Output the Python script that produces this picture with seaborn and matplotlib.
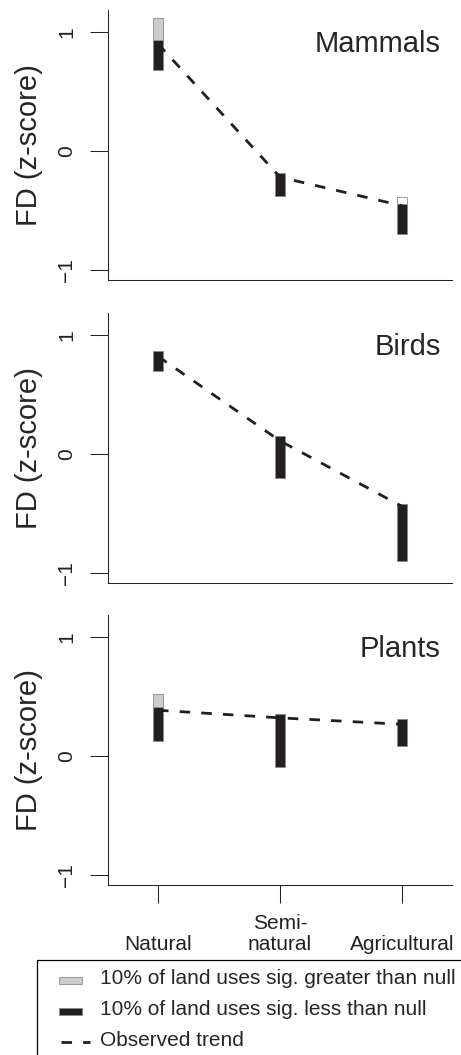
import matplotlib
matplotlib.use("Agg")
import matplotlib.pyplot as plt
import seaborn as sns
from matplotlib.patches import Patch, Rectangle
from matplotlib.lines import Line2D
from matplotlib.legend_handler import HandlerBase

# ---------------------------- data ----------------------------
land_uses = ["Natural", "Semi-\nnatural", "Agricultural"]
taxa = ["Mammals", "Birds", "Plants"]

# black bars: 10% of land uses sig. less than null (bottom, top)
mammals_less_low = [0.68, -0.38, -0.70]
mammals_less_high = [0.935, -0.183, -0.447]
birds_less_low = [0.695, -0.204, -0.90]
birds_less_high = [0.868, 0.154, -0.42]
plants_less_low = [0.129, -0.095, 0.081]
plants_less_high = [0.415, 0.353, 0.311]

# grey bars: 10% of land uses sig. greater than null (top; bottom = top of black bar)
mammals_greater_high = [1.118, None, -0.385]
birds_greater_high = [None, None, None]
plants_greater_high = [0.521, None, None]

# observed trend
mammals_trend = [0.90, -0.22, -0.46]
birds_trend = [0.82, 0.11, -0.44]
plants_trend = [0.384, 0.32, 0.266]

positions = [1, 2, 3]

panels = [
    ("Mammals", mammals_less_low, mammals_less_high, mammals_greater_high, mammals_trend),
    ("Birds", birds_less_low, birds_less_high, birds_greater_high, birds_trend),
    ("Plants", plants_less_low, plants_less_high, plants_greater_high, plants_trend),
]

# ---------------------------- style ----------------------------
sns.set_style("ticks")
plt.rcParams['font.family'] = ['Liberation Sans', 'DejaVu Sans']

black = '#231f20'
grey = '#cccccc'
edge = '#8a8a8a'
bar_w = 0.078
dash = (0, (3.8, 4.0))

W, H = 461, 1055
fig = plt.figure(figsize=(W / 100, H / 100), dpi=100)

tops = [10, 313, 615]
ax_h = 270
left, right = 108, 452

for i, (name, low, high, greater, trend) in enumerate(panels):
    top = tops[i]
    ax = fig.add_axes([left / W, 1 - (top + ax_h) / H, (right - left) / W, ax_h / H])

    # black bars
    ax.bar(positions, [h - l for l, h in zip(low, high)], bottom=low, width=bar_w,
           color=black, edgecolor=edge, linewidth=0.6, zorder=2)
    # grey bars
    for x, b, g in zip(positions, high, greater):
        if g is None:
            continue
        fc = 'white' if name == "Mammals" and x == 3 else grey
        ax.bar([x], [g - b], bottom=[b], width=bar_w, color=fc,
               edgecolor=edge, linewidth=0.6, zorder=2)

    sns.lineplot(x=positions, y=trend, ax=ax, color=black, linewidth=2,
                 linestyle=dash, zorder=3)

    ax.set_xlim(0.59, 3.41)
    ax.set_ylim(-1.084, 1.184)
    ax.set_yticks([-1, 0, 1])
    ax.set_yticklabels(["\u22121", "0", "1"], rotation=90, va='center', fontsize=15)
    ax.tick_params(axis='y', length=13, width=0.75, pad=10, colors='#222222')
    for s in ['top', 'right']:
        ax.spines[s].set_visible(False)
    for s in ['left', 'bottom']:
        ax.spines[s].set_linewidth(0.75)
        ax.spines[s].set_color('#222222')

    ax.set_ylabel("FD (z-score)", fontsize=21)
    ax.yaxis.set_label_coords(-0.19, 0.5)

    ax.text(0.968, 0.875, name, transform=ax.transAxes, ha='right', va='center', fontsize=21)

    if i < 2:
        ax.set_xticks([])
    else:
        ax.set_xticks(positions)
        ax.set_xticklabels(land_uses, fontsize=15, va='bottom', linespacing=1.15)
        ax.tick_params(axis='x', length=13, width=0.75, pad=37, colors='#222222')


# ---------------------------- legend ----------------------------
class LegendKey(HandlerBase):
    def __init__(self, x0, x1, y0, y1):
        super().__init__()
        self.x0, self.x1, self.y0, self.y1 = x0, x1, y0, y1

    def create_artists(self, legend, orig_handle, xdescent, ydescent, width, height, fontsize, trans):
        xa = -xdescent + self.x0 * width
        xb = -xdescent + self.x1 * width
        ya = -ydescent + self.y0 * height
        yb = -ydescent + self.y1 * height
        if isinstance(orig_handle, Line2D):
            art = Line2D([xa, xb], [ya, ya], color=orig_handle.get_color(),
                         linewidth=orig_handle.get_linewidth(), linestyle=dash)
        else:
            art = Rectangle((xa, ya), xb - xa, yb - ya,
                            facecolor=orig_handle.get_facecolor(),
                            edgecolor=orig_handle.get_edgecolor(),
                            linewidth=orig_handle.get_linewidth())
        art.set_transform(trans)
        return [art]


h_greater = Patch(facecolor=grey, edgecolor=edge, linewidth=0.6)
h_less = Patch(facecolor=black, edgecolor=edge, linewidth=0.6)
h_trend = Line2D([], [], color=black, linewidth=2)

leg = fig.legend(
    [h_greater, h_less, h_trend],
    ["10% of land uses sig. greater than null",
     "10% of land uses sig. less than null",
     "Observed trend"],
    handler_map={Patch: LegendKey(0.295, 0.815, 0.0, 0.52),
                 Line2D: LegendKey(0.334, 1.0, 0.28, 0.28)},
    loc='upper left', bbox_to_anchor=(36.7 / W, 1 - 960 / H),
    bbox_transform=fig.transFigure, borderaxespad=0, fontsize=15,
    handlelength=2.1, handletextpad=0.48, borderpad=0.45, labelspacing=0.57,
    fancybox=False, framealpha=1, edgecolor='black')
leg.get_frame().set_linewidth(0.9)

fig.savefig("out.png", dpi=100)
